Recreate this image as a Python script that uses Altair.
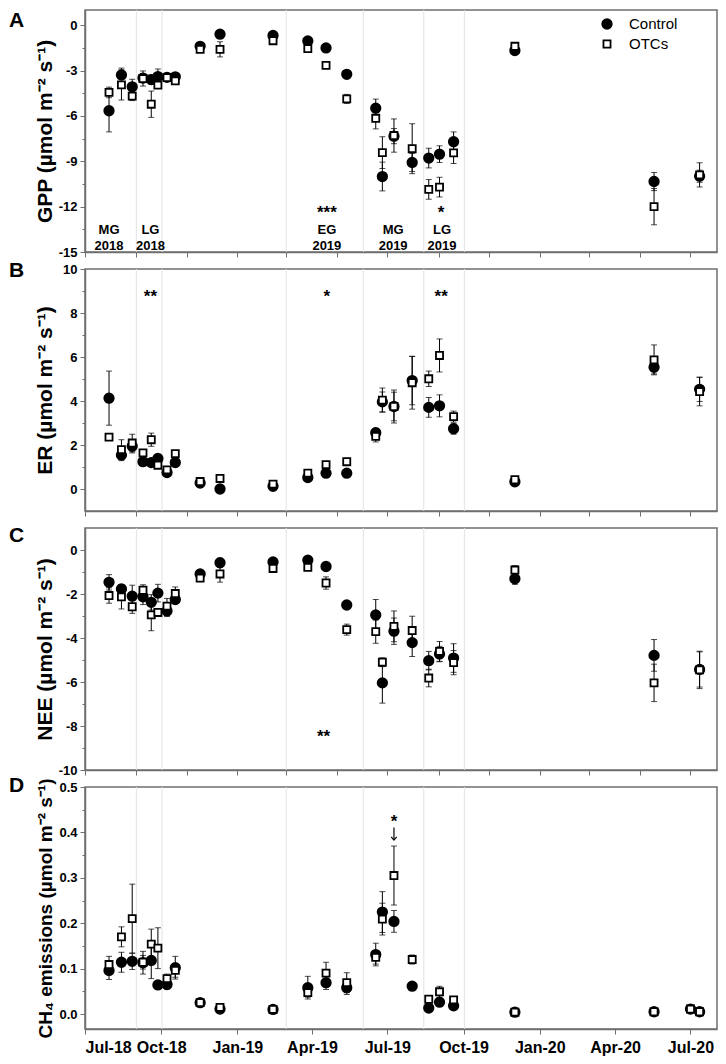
import altair as alt
import pandas as pd

# ---------------- data ----------------
dates = ["2018-07-30", "2018-08-14", "2018-08-27", "2018-09-09", "2018-09-19", "2018-09-27",
         "2018-10-08", "2018-10-18", "2018-11-17", "2018-12-11", "2019-02-13", "2019-03-27",
         "2019-04-18", "2019-05-13", "2019-06-17", "2019-06-25", "2019-07-09", "2019-07-31",
         "2019-08-20", "2019-09-02", "2019-09-19", "2019-12-02", "2020-05-18", "2020-07-01",
         "2020-07-12"]
N = None

gpp_ctrl = [-5.66, -3.29, -4.08, -3.50, -3.60, -3.40, -3.45, -3.42, -1.40, -0.60, -0.68, -1.05,
            -1.51, -3.25, -5.49, -10.01, -7.34, -9.08, -8.79, -8.53, -7.71, -1.68, -10.34, N, -9.99]
gpp_ctrl_se = [1.40, 0.45, 0.50, 0.30, 0.30, 0.50, 0.20, 0.20, 0.10, 0.10, 0.10, 0.10,
               0.10, 0.10, 0.60, 0.95, 0.50, 0.60, 0.65, 0.55, 0.65, 0.10, 0.60, N, 0.40]
gpp_otc = [-4.45, -3.95, -4.69, -3.53, -5.23, -3.97, -3.47, -3.68, -1.60, -1.60, -1.03, -1.55,
           -2.66, -4.88, -6.16, -8.43, -7.30, -8.17, -10.86, -10.71, -8.45, -1.40, -12.00, N, -9.90]
gpp_otc_se = [0.35, 1.00, 0.30, 0.50, 0.87, 0.20, 0.25, 0.20, 0.15, 0.50, 0.10, 0.10,
              0.15, 0.30, 0.70, 1.05, 1.10, 1.65, 0.65, 0.65, 0.70, 0.10, 1.20, N, 0.80]

er_ctrl = [4.13, 1.54, 1.94, 1.24, 1.20, 1.39, 0.75, 1.20, 0.27, 0.00, 0.12, 0.52,
           0.72, 0.72, 2.56, 3.96, 3.75, 4.93, 3.71, 3.78, 2.74, 0.33, 5.53, N, 4.53]
er_ctrl_se = [1.23, 0.25, 0.30, 0.10, 0.10, 0.10, 0.10, 0.10, 0.05, 0.05, 0.05, 0.05,
              0.05, 0.05, 0.20, 0.45, 0.65, 1.10, 0.45, 0.50, 0.25, 0.05, 0.30, N, 0.55]
er_otc = [2.36, 1.79, 2.09, 1.64, 2.24, 1.08, 0.87, 1.61, 0.34, 0.48, 0.22, 0.72,
          1.11, 1.24, 2.39, 4.04, 3.75, 4.83, 5.01, 6.07, 3.29, 0.42, 5.87, N, 4.43]
er_otc_se = [0.10, 0.45, 0.40, 0.10, 0.30, 0.10, 0.10, 0.10, 0.05, 0.05, 0.05, 0.05,
             0.10, 0.15, 0.25, 0.55, 0.75, 1.20, 0.35, 0.75, 0.25, 0.05, 0.68, N, 0.65]

nee_ctrl = [-1.47, -1.77, -2.10, -2.13, -2.38, -1.96, -2.77, -2.25, -1.09, -0.58, -0.54, -0.46,
            -0.75, -2.50, -2.95, -6.04, -3.69, -4.21, -5.03, -4.73, -4.91, -1.31, -4.79, N, -5.43]
nee_ctrl_se = [0.35, 0.20, 0.50, 0.35, 0.35, 0.40, 0.25, 0.15, 0.10, 0.20, 0.05, 0.05,
               0.08, 0.08, 0.70, 0.92, 0.60, 0.63, 0.42, 0.35, 0.65, 0.25, 0.72, N, 0.80]
nee_otc = [-2.07, -2.13, -2.58, -1.83, -2.95, -2.84, -2.55, -1.98, -1.28, -1.09, -0.84, -0.79,
           -1.50, -3.62, -3.71, -5.10, -3.47, -3.66, -5.82, -4.61, -5.12, -0.91, -6.04, N, -5.45]
nee_otc_se = [0.35, 0.55, 0.30, 0.25, 0.72, 0.15, 0.35, 0.30, 0.10, 0.37, 0.08, 0.08,
              0.28, 0.25, 0.53, 0.20, 0.70, 0.65, 0.40, 0.45, 0.55, 0.20, 0.85, N, 0.85]

ch4_ctrl = [0.096, 0.114, 0.116, 0.113, 0.118, 0.064, 0.065, 0.102, 0.025, 0.011, 0.010, 0.058,
            0.069, 0.058, 0.131, 0.2245, 0.204, 0.0614, 0.013, 0.026, 0.018, 0.004, 0.005, 0.011, 0.005]
ch4_ctrl_se = [0.020, 0.022, 0.018, 0.025, 0.040, 0.005, 0.010, 0.025, 0.003, 0.003, 0.003, 0.025,
               0.015, 0.015, 0.025, 0.045, 0.024, 0.003, 0.003, 0.003, 0.003, 0.002, 0.002, 0.002, 0.002]
ch4_otc = [0.109, 0.170, 0.210, 0.114, 0.154, 0.145, 0.078, 0.096, 0.025, 0.0145, 0.010, 0.047,
           0.090, 0.069, 0.125, 0.209, 0.305, 0.120, 0.0325, 0.049, 0.031, 0.004, 0.005, 0.011, 0.005]
ch4_otc_se = [0.018, 0.022, 0.076, 0.015, 0.033, 0.045, 0.010, 0.015, 0.003, 0.003, 0.003, 0.010,
              0.024, 0.022, 0.015, 0.035, 0.065, 0.010, 0.008, 0.012, 0.006, 0.002, 0.002, 0.002, 0.002]

period_bounds = ["2018-09-01", "2018-10-02", "2019-03-01", "2019-06-02", "2019-08-14", "2019-10-02"]

groups = ["Control", "OTCs"]

# annotations: (text, date, value)
ann_a_labels = [("MG", "2018-07-30", -13.55), ("2018", "2018-07-30", -14.6),
                ("LG", "2018-09-18", -13.55), ("2018", "2018-09-18", -14.6),
                ("EG", "2019-04-19", -13.55), ("2019", "2019-04-19", -14.6),
                ("MG", "2019-07-08", -13.55), ("2019", "2019-07-08", -14.6),
                ("LG", "2019-09-05", -13.55), ("2019", "2019-09-05", -14.6)]
ann_a_stars = [("***", "2019-04-19", -12.15), ("*", "2019-09-04", -12.15)]
ann_b_stars = [("**", "2018-09-18", 8.92), ("*", "2019-04-19", 8.92), ("**", "2019-09-04", 8.92)]
ann_c_stars = [("**", "2019-04-15", -8.33)]
ann_d_stars = [("*", "2019-07-09", 0.432)]
# arrow in panel D: (date, top value, tip value)
ann_d_arrow = [("2019-07-09", 0.411, 0.383)]

# ---------------- helpers ----------------
FONT = "Liberation Sans"
W, H, GAP = 632, 242, 17

x_scale = alt.Scale(type="utc",
                    domain=[alt.DateTime(year=2018, month=7, date=1, utc=True),
                            alt.DateTime(year=2020, month=8, date=2, utc=True)])
bimonthly = [alt.DateTime(year=y, month=m, date=1, utc=True)
             for (y, m) in [(2018, 7), (2018, 9), (2018, 11), (2019, 1), (2019, 3), (2019, 5),
                            (2019, 7), (2019, 9), (2019, 11), (2020, 1), (2020, 3), (2020, 5), (2020, 7)]]
quarterly = [alt.DateTime(year=y, month=m, date=1, utc=True)
             for (y, m) in [(2018, 7), (2018, 10), (2019, 1), (2019, 4), (2019, 7), (2019, 10),
                            (2020, 1), (2020, 4), (2020, 7)]]


def long_df(ctrl, ctrl_se, otc, otc_se):
    rows = []
    for g, vals, ses in [("Control", ctrl, ctrl_se), ("OTCs", otc, otc_se)]:
        for d, v, s in zip(dates, vals, ses):
            if v is None:
                continue
            rows.append(dict(date=d, group=g, mean=v, lo=v - s, hi=v + s))
    return pd.DataFrame(rows)


def ann_df(items):
    return pd.DataFrame([dict(txt=t, date=d, v=v) for (t, d, v) in items])


def panel(df, ydomain, yvals, label_expr, tick_test, title, title_size, letter, letter_y,
          last, legend, label_items=None, star_items=None, arrow_items=None):
    if last:
        x_axis = alt.Axis(values=quarterly, labelExpr="utcFormat(datum.value, '%b-%y')",
                          title=None, labelFontSize=16, labelFontWeight="bold", labelPadding=5,
                          labelColor="black", labelFont=FONT, tickSize=5, grid=False)
    else:
        x_axis = alt.Axis(values=bimonthly, labels=False, title=None, tickSize=5, grid=False)
    y_axis = alt.Axis(title=title, values=yvals, labelExpr=label_expr,
                      tickSize={"condition": {"test": tick_test, "value": 5}, "value": 3},
                      grid=False, labelFontSize=13, labelFontWeight="bold", labelColor="black",
                      labelFont=FONT, labelPadding=3,
                      titleFontSize=title_size, titleFontWeight="bold", titleColor="black",
                      titleFont=FONT, titleX=-30)
    y_scale = alt.Scale(domain=ydomain, nice=False, zero=False)
    X = alt.X("date:T", scale=x_scale, axis=x_axis)

    grid = alt.Chart(pd.DataFrame({"date": period_bounds})).mark_rule(
        color="#e3e3e3", strokeWidth=1).encode(x=X)

    base = alt.Chart(df)
    bars = base.mark_rule(color="black", strokeWidth=1).encode(
        x=X, y=alt.Y("lo:Q", scale=y_scale, axis=y_axis), y2="hi:Q")
    cap_lo = base.mark_tick(orient="horizontal", color="black", size=6, thickness=1).encode(
        x=X, y=alt.Y("lo:Q", scale=y_scale, axis=y_axis))
    cap_hi = base.mark_tick(orient="horizontal", color="black", size=6, thickness=1).encode(
        x=X, y=alt.Y("hi:Q", scale=y_scale, axis=y_axis))

    pts = base.mark_point(filled=True, stroke="black", strokeWidth=1.8, opacity=1,
                          fillOpacity=1).encode(
        x=X, y=alt.Y("mean:Q", scale=y_scale, axis=y_axis),
        shape=alt.Shape("group:N", scale=alt.Scale(domain=groups, range=["circle", "square"]),
                        legend=None),
        fill=alt.Fill("group:N", scale=alt.Scale(domain=groups, range=["black", "white"]),
                      legend=None),
        size=alt.Size("group:N", scale=alt.Scale(domain=groups, range=[90, 50]), legend=None),
    )

    layers = [grid, bars, cap_lo, cap_hi, pts]
    if label_items:
        layers.append(alt.Chart(ann_df(label_items)).mark_text(
            fontSize=13, fontWeight="bold", font=FONT, color="black", baseline="middle").encode(
            x=X, y=alt.Y("v:Q", scale=y_scale, axis=y_axis), text="txt:N"))
    if star_items:
        layers.append(alt.Chart(ann_df(star_items)).mark_text(
            fontSize=17, fontWeight="bold", font=FONT, color="black", baseline="middle",
            dy=4).encode(
            x=X, y=alt.Y("v:Q", scale=y_scale, axis=y_axis), text="txt:N"))
    if arrow_items:
        adf = pd.DataFrame([dict(date=d, top=t, tip=p) for (d, t, p) in arrow_items])
        layers.append(alt.Chart(adf).mark_rule(color="black", strokeWidth=1.2).encode(
            x=X, y=alt.Y("top:Q", scale=y_scale, axis=y_axis), y2="tip:Q"))
        layers.append(alt.Chart(adf).mark_point(
            shape="M -1 -1.2 L 0 0 L 1 -1.2", filled=False, stroke="black", strokeWidth=1.2,
            size=30, opacity=1).encode(
            x=X, y=alt.Y("tip:Q", scale=y_scale, axis=y_axis)))
    if legend:
        # manual legend (top right of panel A)
        lg_c = alt.Chart(pd.DataFrame({"g": [groups[0]]}))
        lg_o = alt.Chart(pd.DataFrame({"g": [groups[1]]}))
        layers += [
            lg_c.mark_point(shape="circle", filled=True, fill="black", stroke="black",
                            strokeWidth=1.8, size=90, opacity=1).encode(
                x=alt.value(522), y=alt.value(14)),
            lg_o.mark_point(shape="square", filled=True, fill="white", stroke="black",
                            strokeWidth=1.8, size=50, opacity=1).encode(
                x=alt.value(522), y=alt.value(34)),
            lg_c.mark_text(align="left", baseline="middle", fontSize=15, font=FONT,
                           color="black").encode(x=alt.value(544), y=alt.value(14), text="g:N"),
            lg_o.mark_text(align="left", baseline="middle", fontSize=15, font=FONT,
                           color="black").encode(x=alt.value(544), y=alt.value(34), text="g:N"),
        ]
    layers.append(alt.Chart(pd.DataFrame({"t": [letter]})).mark_text(
        fontSize=21, fontWeight="bold", font=FONT, color="black", align="left",
        baseline="top").encode(x=alt.value(-76), y=alt.value(letter_y), text="t:N"))

    return alt.layer(*layers).properties(width=W, height=H)


a_vals = [-15 + 1.5 * i for i in range(11)]
b_vals = list(range(0, 11))
c_vals = list(range(-10, 1))
d_vals = [round(0.05 * i, 2) for i in range(11)]

pA = panel(long_df(gpp_ctrl, gpp_ctrl_se, gpp_otc, gpp_otc_se), [-15, 1], a_vals,
           "datum.value % 3 == 0 ? '' + datum.value : ''", "datum.value % 3 == 0",
           "GPP (\u00b5mol m\u207b\u00b2 s\u207b\u00b9)", 21, "A", 0, False, True,
           label_items=ann_a_labels, star_items=ann_a_stars)
pB = panel(long_df(er_ctrl, er_ctrl_se, er_otc, er_otc_se), [-1, 10], b_vals,
           "datum.value % 2 == 0 ? '' + datum.value : ''", "datum.value % 2 == 0",
           "ER (\u00b5mol m\u207b\u00b2 s\u207b\u00b9)", 21, "B", -9, False, False,
           star_items=ann_b_stars)
pC = panel(long_df(nee_ctrl, nee_ctrl_se, nee_otc, nee_otc_se), [-10, 1], c_vals,
           "datum.value % 2 == 0 ? '' + datum.value : ''", "datum.value % 2 == 0",
           "NEE (\u00b5mol m\u207b\u00b2 s\u207b\u00b9)", 21, "C", -3, False, False,
           star_items=ann_c_stars)
pD = panel(long_df(ch4_ctrl, ch4_ctrl_se, ch4_otc, ch4_otc_se), [-0.033, 0.5], d_vals,
           "round(datum.value * 100) % 10 == 0 ? format(datum.value, '.1f') : ''",
           "round(datum.value * 100) % 10 == 0",
           "CH\u2084 emissions (\u00b5mol m\u207b\u00b2 s\u207b\u00b9)", 19, "D", -12, True, False,
           star_items=ann_d_stars, arrow_items=ann_d_arrow)

chart = alt.vconcat(pA, pB, pC, pD, spacing=GAP, bounds="flush").configure(
    padding=0, background="white"
).configure_view(
    stroke="#6f6f6f", strokeWidth=1.5
).configure_axis(
    domainColor="#6f6f6f", domainWidth=1.5, tickColor="#6f6f6f", tickWidth=1
)

chart.save("out.html", embed_options={"renderer": "svg", "actions": False})
